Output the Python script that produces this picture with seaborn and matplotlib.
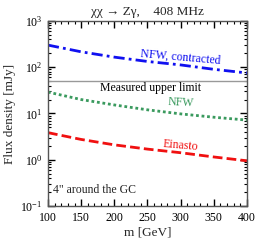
import matplotlib
matplotlib.use("Agg")
import matplotlib.pyplot as plt
import seaborn as sns
import pandas as pd
import numpy as np
from matplotlib.ticker import LogLocator, MultipleLocator, NullFormatter

mass = [100, 150, 200, 250, 300, 350, 400]
nfw_contracted = [300, 215, 165, 133, 112, 90, 75]
nfw = [29, 20, 15.3, 12, 9.8, 8.3, 7.2]
einasto = [3.85, 2.75, 2.1, 1.7, 1.42, 1.15, 0.95]
upper_limit = 50

sns.set_style("white")
plt.rcParams['font.family'] = ['Liberation Serif', 'DejaVu Serif']
plt.rcParams['mathtext.fontset'] = 'stix'
plt.rcParams.update({
    'xtick.direction': 'in', 'ytick.direction': 'in',
    'xtick.top': True, 'ytick.right': True,
    'xtick.bottom': True, 'ytick.left': True,
    'xtick.major.size': 5, 'ytick.major.size': 5,
    'xtick.minor.size': 2.5, 'ytick.minor.size': 2.5,
    'xtick.major.width': 1.0, 'ytick.major.width': 1.0,
    'xtick.minor.width': 0.8, 'ytick.minor.width': 0.8,
    'xtick.color': 'black', 'ytick.color': 'black',
    'xtick.minor.visible': True, 'ytick.minor.visible': True,
})

df = pd.DataFrame({
    'm': mass * 3,
    'flux': nfw_contracted + nfw + einasto,
    'profile': ['NFW, contracted'] * 7 + ['NFW'] * 7 + ['Einasto'] * 7,
})

fig = plt.figure(figsize=(2.58, 2.43), dpi=100)
ax = fig.add_axes([0.186, 0.152, 0.771, 0.762])

palette = {'NFW, contracted': '#1010f0', 'NFW': '#3a9a5e', 'Einasto': '#f01010'}
styles = {'NFW, contracted': (0, (4, 1.5, 1, 1.5)), 'NFW': (0, (1, 1)), 'Einasto': (0, (3.5, 1.5))}
for name in ['NFW, contracted', 'NFW', 'Einasto']:
    sub = df[df.profile == name]
    sns.lineplot(data=sub, x='m', y='flux', ax=ax, color=palette[name],
                 linewidth=2.0, linestyle=styles[name], legend=False)

ax.axhline(upper_limit, color='#999999', linewidth=1.0)

ax.set_yscale('log')
ax.set_xlim(100, 400)
ax.set_ylim(0.1, 1000)
ax.xaxis.set_major_locator(MultipleLocator(50))
ax.xaxis.set_minor_locator(MultipleLocator(10))
ax.yaxis.set_major_locator(LogLocator(base=10, numticks=10))
ax.yaxis.set_minor_locator(LogLocator(base=10, subs=np.arange(2, 10), numticks=20))
ax.yaxis.set_minor_formatter(NullFormatter())
ax.tick_params(which='both', labelsize=8.5, labelcolor='black')
ax.tick_params(which='major', pad=4)
for s in ax.spines.values():
    s.set_linewidth(1.0)
    s.set_color('#555555')

ax.set_xlabel('m [GeV]', fontsize=9.5, labelpad=2)
ax.set_ylabel('Flux density [mJy]', fontsize=9.5, labelpad=3)
ax.set_title('χχ → Zγ,    408 MHz', fontsize=9.5, pad=4)

ax.text(300, 160, 'NFW, contracted', color='#1010f0', fontsize=8.5, ha='center', va='center', rotation=-5)
ax.text(255, 36, 'Measured upper limit', color='black', fontsize=8.5, ha='center', va='center')
ax.text(300, 17, 'NFW', color='#3a9a5e', fontsize=8.5, ha='center', va='center', rotation=-3)
ax.text(300, 2.0, 'Einasto', color='#f01010', fontsize=8.5, ha='center', va='center', rotation=-5)
ax.text(0.025, 0.085, '4" around the GC', transform=ax.transAxes, fontsize=8.5, ha='left', va='center')

fig.savefig('out.png', dpi=100)
